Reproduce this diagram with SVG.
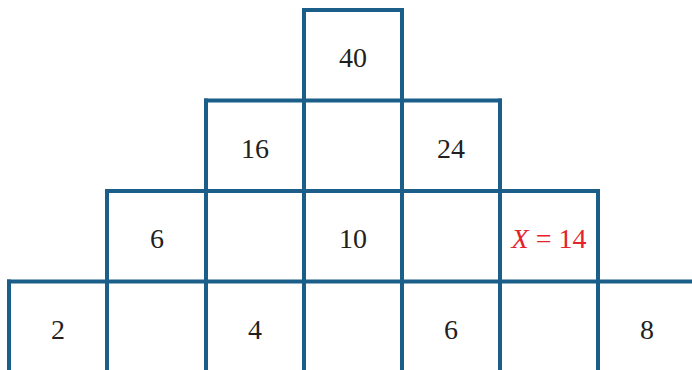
<svg xmlns="http://www.w3.org/2000/svg" width="692" height="370" viewBox="0 0 692 370">
<style>
.g line{stroke:#1b5e8a;stroke-width:4;stroke-linecap:square}
text{font-family:'Liberation Serif','Times New Roman',Times,'DejaVu Serif','Noto Serif',serif;font-size:28px;fill:#231f20;text-anchor:middle}
.r{fill:#e5232b}
</style>
<rect width="692" height="370" fill="#fff"/>
<g id="grid" class="g">
<line x1="304" y1="10" x2="402" y2="10"/>
<line x1="206" y1="100.5" x2="500" y2="100.5"/>
<line x1="107" y1="191" x2="598" y2="191"/>
<line x1="9" y1="281.5" x2="694" y2="281.5"/>
<line x1="304" y1="10" x2="304" y2="372"/>
<line x1="402" y1="10" x2="402" y2="372"/>
<line x1="206" y1="100.5" x2="206" y2="372"/>
<line x1="500" y1="100.5" x2="500" y2="372"/>
<line x1="107" y1="191" x2="107" y2="372"/>
<line x1="598" y1="191" x2="598" y2="372"/>
<line x1="9" y1="281.5" x2="9" y2="372"/>
</g>
<g id="r1"><text x="353" y="67">40</text></g>
<g id="r2"><text x="255" y="157.5">16</text><text x="451" y="157.5">24</text></g>
<g id="r3"><text x="157" y="248">6</text><text x="353" y="248">10</text>
<text x="549" y="248" class="r"><tspan font-style="italic">X</tspan> = 14</text></g>
<g id="r4"><text x="58" y="338.5">2</text><text x="255" y="338.5">4</text><text x="451" y="338.5">6</text><text x="647" y="338.5">8</text></g>
</svg>
